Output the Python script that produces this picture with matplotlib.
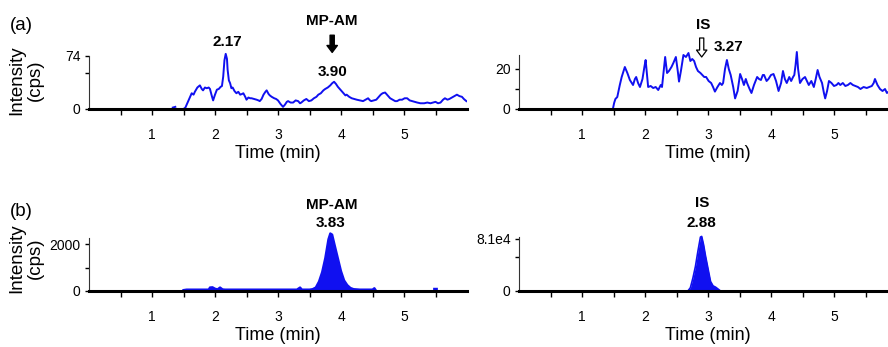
import numpy as np
import matplotlib
matplotlib.use("Agg")
import matplotlib.pyplot as plt
from matplotlib.ticker import FixedLocator

plt.rcParams['font.family'] = ['Liberation Sans', 'DejaVu Sans']

# (a) blank plasma, MP-AM channel
a_left_time = [
    1.50, 1.53, 1.56, 1.60, 1.63, 1.66, 1.68, 1.72, 1.76, 1.79,
    1.81, 1.84, 1.87, 1.90, 1.92, 1.95, 1.97, 2.00, 2.03, 2.06,
    2.09, 2.11, 2.13, 2.15, 2.17, 2.19, 2.20, 2.22, 2.24, 2.26,
    2.28, 2.31, 2.34, 2.37, 2.40, 2.43, 2.45, 2.48, 2.50, 2.53,
    2.56, 2.58, 2.62, 2.66, 2.69, 2.71, 2.74, 2.77, 2.80, 2.82,
    2.85, 2.87, 2.90, 2.94, 2.97, 3.00, 3.04, 3.08, 3.11, 3.14,
    3.16, 3.20, 3.24, 3.28, 3.32, 3.35, 3.37, 3.41, 3.45, 3.49,
    3.53, 3.57, 3.61, 3.64, 3.68, 3.72, 3.75, 3.79, 3.83, 3.86,
    3.89, 3.92, 3.95, 3.98, 4.01, 4.04, 4.07, 4.09, 4.13, 4.17,
    4.21, 4.25, 4.30, 4.35, 4.39, 4.43, 4.46, 4.48, 4.52, 4.56,
    4.60, 4.63, 4.66, 4.70, 4.73, 4.76, 4.78, 4.82, 4.86, 4.89,
    4.93, 4.97, 5.01, 5.05, 5.09, 5.13, 5.17, 5.21, 5.26, 5.32,
    5.37, 5.42, 5.46, 5.50, 5.54, 5.58, 5.62, 5.65, 5.69, 5.72,
    5.76, 5.80, 5.84, 5.88, 5.92, 5.95, 5.99]
a_left_cps = [
    0, 2, 8, 16, 22, 20, 24, 30, 33, 28,
    26, 30, 29, 30, 28, 18, 12, 20, 27, 28,
    31, 32, 45, 68, 77, 70, 55, 40, 36, 29,
    30, 25, 22, 24, 20, 21, 22, 17, 13, 16,
    15, 15, 14, 13, 12, 11, 14, 20, 24, 26,
    21, 19, 17, 15, 14, 12, 7, 3, 6, 10,
    11, 9, 9, 12, 11, 8, 9, 12, 14, 11,
    12, 15, 17, 20, 22, 26, 28, 30, 33, 36,
    38, 35, 31, 28, 25, 22, 19, 20, 17, 15,
    14, 13, 12, 11, 13, 15, 12, 11, 12, 13,
    17, 20, 22, 23, 20, 17, 15, 13, 11, 11,
    13, 13, 15, 15, 12, 11, 10, 9, 8, 8,
    9, 8, 9, 10, 8, 9, 13, 15, 13, 14,
    16, 18, 20, 18, 17, 14, 11]
a_left_dot_time = [1.33, 1.37]
a_left_dot_cps = [2, 3]

# (a) blank plasma, IS channel
a_right_time = [
    1.49, 1.51, 1.53, 1.56, 1.60, 1.63, 1.66, 1.68, 1.72, 1.76,
    1.79, 1.81, 1.84, 1.86, 1.89, 1.92, 1.94, 1.96, 1.99, 2.01,
    2.03, 2.05, 2.09, 2.13, 2.17, 2.21, 2.25, 2.27, 2.30, 2.32,
    2.35, 2.38, 2.42, 2.45, 2.49, 2.52, 2.54, 2.57, 2.61, 2.65,
    2.69, 2.72, 2.75, 2.78, 2.81, 2.84, 2.88, 2.91, 2.94, 2.97,
    3.01, 3.05, 3.08, 3.11, 3.15, 3.19, 3.22, 3.24, 3.27, 3.30,
    3.33, 3.36, 3.40, 3.43, 3.47, 3.51, 3.54, 3.57, 3.60, 3.62,
    3.66, 3.69, 3.73, 3.78, 3.81, 3.84, 3.87, 3.89, 3.93, 3.96,
    4.00, 4.04, 4.08, 4.12, 4.16, 4.19, 4.22, 4.25, 4.29, 4.32,
    4.35, 4.37, 4.39, 4.41, 4.43, 4.46, 4.50, 4.54, 4.57, 4.60,
    4.64, 4.68, 4.71, 4.74, 4.77, 4.81, 4.84, 4.86, 4.89, 4.92,
    4.96, 5.00, 5.04, 5.07, 5.10, 5.14, 5.18, 5.22, 5.26, 5.30,
    5.34, 5.38, 5.42, 5.47, 5.52, 5.56, 5.60, 5.63, 5.65, 5.69,
    5.73, 5.77, 5.81, 5.84, 5.88, 5.93, 5.98]
a_right_cps = [
    0, 3, 5, 6, 12, 16, 19, 21, 18, 14.5,
    13, 12, 15, 16, 13, 11, 13, 15, 21, 24.5,
    18, 11, 11.5, 10.5, 11, 9.5, 12, 11, 20, 26,
    18, 19, 21, 23, 26, 19, 13.7, 19, 27, 26,
    28, 24, 25, 24, 21, 19, 18, 17, 16, 16,
    14, 13, 11, 8.7, 11, 13, 12, 13, 20, 24.5,
    20, 17, 11, 5.3, 9, 17.5, 15, 12, 15, 13,
    10, 8, 12, 16, 15, 14.5, 17, 17, 14, 15,
    17, 17.5, 14, 9, 13, 19, 15, 13, 16, 14,
    16, 17, 22, 28.5, 20, 13, 15, 16, 14, 12,
    14, 11, 15, 19.5, 16, 13, 8, 5.3, 9, 14,
    13, 11.5, 12, 13, 12, 13, 11.5, 12, 13, 12,
    11.5, 11, 10, 11, 10.5, 11, 11.5, 13, 15, 12,
    10, 9, 10, 8, 9, 10, 8]

# (b) spiked plasma
b_left_time = [1.50, 1.55, 1.90, 1.92, 1.96, 2.00, 2.04, 2.08, 2.12, 2.16,
               2.20, 3.30, 3.35, 3.38, 3.50, 3.55, 3.60, 3.65, 3.70, 3.75,
               3.80, 3.83, 3.86, 3.90, 3.95, 4.00, 4.05, 4.10, 4.15, 4.20,
               4.30, 4.50, 4.53, 4.56, 4.57, 5.48, 5.52]
b_left_cps = [40, 60, 60, 150, 160, 100, 70, 150, 70, 60,
              60, 60, 150, 60, 60, 80, 150, 400, 800, 1400,
              2200, 2450, 2400, 1950, 1400, 850, 450, 250, 130, 80,
              60, 60, 120, 0, np.nan, 90, 90]

b_right_time = [2.68, 2.72, 2.76, 2.80, 2.84, 2.88, 2.90, 2.93, 2.96, 3.00,
                3.04, 3.08, 3.12, 3.16, 3.20]
b_right_cps = [0, 5000, 20000, 38000, 62000, 84000, 85000, 72000, 55000, 35000,
               15000, 8000, 6000, 3000, 0]

BLUE = '#1010f0'
W, H = 888, 347

fig = plt.figure(figsize=(8.88, 3.47), dpi=100)


def make_ax(left_px, base_px, height_px, ymax, spine_top, yticks, ylabels, yminor):
    ax = fig.add_axes([left_px / W, (H - base_px) / H, 378 / W, height_px / H])
    ax.patch.set_alpha(0)
    ax.set_xlim(0, 6)
    ax.set_ylim(0, ymax)
    ax.spines['top'].set_visible(False)
    ax.spines['right'].set_visible(False)
    ax.spines['bottom'].set_linewidth(2.2)
    ax.spines['bottom'].set_color('black')
    ax.spines['left'].set_linewidth(0.8)
    ax.spines['left'].set_color('#333333')
    ax.spines['left'].set_bounds(0, spine_top)
    ax.set_xticks([1, 2, 3, 4, 5])
    ax.xaxis.set_minor_locator(FixedLocator([0.5, 1.5, 2.5, 3.5, 4.5, 5.5]))
    ax.set_yticks(yticks)
    ax.set_yticklabels(ylabels)
    ax.yaxis.set_minor_locator(FixedLocator([yminor]))
    ax.tick_params(axis='x', which='both', direction='out', length=4, width=1,
                   pad=9.5, labelsize=10)
    ax.tick_params(axis='y', which='both', direction='out', length=3, width=1,
                   pad=3, labelsize=10)
    ax.set_xlabel('Time (min)', fontsize=13, labelpad=2)
    return ax


ax1 = make_ax(89, 109, 57.3, 80, 74, [0, 74], ['0', '74'], 50)
ax1.plot(a_left_time, a_left_cps, color=BLUE, lw=1.4)
ax1.plot(a_left_dot_time, a_left_dot_cps, color=BLUE, lw=1.4)
ax1.text(2.19, 93, '2.17', ha='center', va='center', fontsize=11, fontweight='bold')
ax1.text(3.86, 123, 'MP-AM', ha='center', va='center', fontsize=11, fontweight='bold')
ax1.text(3.86, 52, '3.90', ha='center', va='center', fontsize=11, fontweight='bold')
ax1.annotate('', xy=(3.86, 79), xytext=(3.86, 103), annotation_clip=False,
             arrowprops=dict(arrowstyle='simple,head_width=0.75,head_length=0.5,tail_width=0.3',
                             fc='black', ec='black', mutation_scale=10, shrinkA=0, shrinkB=0))

ax2 = make_ax(519, 109, 58, 29, 27, [0, 20], ['0', '20'], 10)
ax2.plot(a_right_time, a_right_cps, color=BLUE, lw=1.4)
ax2.text(2.92, 42, 'IS', ha='center', va='center', fontsize=11, fontweight='bold')
ax2.text(3.33, 31, '3.27', ha='center', va='center', fontsize=11, fontweight='bold')
ax2.annotate('', xy=(2.90, 26), xytext=(2.90, 35.5), annotation_clip=False,
             arrowprops=dict(arrowstyle='simple,head_width=0.75,head_length=0.5,tail_width=0.3',
                             fc='white', ec='black', lw=0.9, mutation_scale=10,
                             shrinkA=0, shrinkB=0))

ax3 = make_ax(89, 291, 58.75, 2500, 2255, [0, 2000], ['0', '2000'], 1000)
ax3.fill_between(b_left_time, 0, b_left_cps, color=BLUE, lw=0)
ax3.plot(b_left_time, b_left_cps, color=BLUE, lw=1.6)
ax3.text(3.86, 3660, 'MP-AM', ha='center', va='center', fontsize=11, fontweight='bold')
ax3.text(3.83, 2894, '3.83', ha='center', va='center', fontsize=11, fontweight='bold')

ax4 = make_ax(519, 291, 57.8, 9e4, 8.4e4, [0, 8.1e4], ['0', '8.1e4'], 5.3e4)
ax4.fill_between(b_right_time, 0, b_right_cps, color=BLUE, lw=0)
ax4.plot(b_right_time, b_right_cps, color=BLUE, lw=1.2)
ax4.text(2.90, 1.37e5, 'IS', ha='center', va='center', fontsize=11, fontweight='bold')
ax4.text(2.90, 1.06e5, '2.88', ha='center', va='center', fontsize=11, fontweight='bold')

for yc in (80, 258):
    fig.text(26 / W, 1 - yc / H, 'Intensity\n(cps)', rotation=90, ha='center',
             va='center', multialignment='center', fontsize=13.5, linespacing=1.1)

fig.text(10 / W, 1 - 25 / H, '(a)', ha='left', va='center', fontsize=13.5)
fig.text(10 / W, 1 - 212 / H, '(b)', ha='left', va='center', fontsize=13.5)

fig.savefig('out.png', dpi=100)
